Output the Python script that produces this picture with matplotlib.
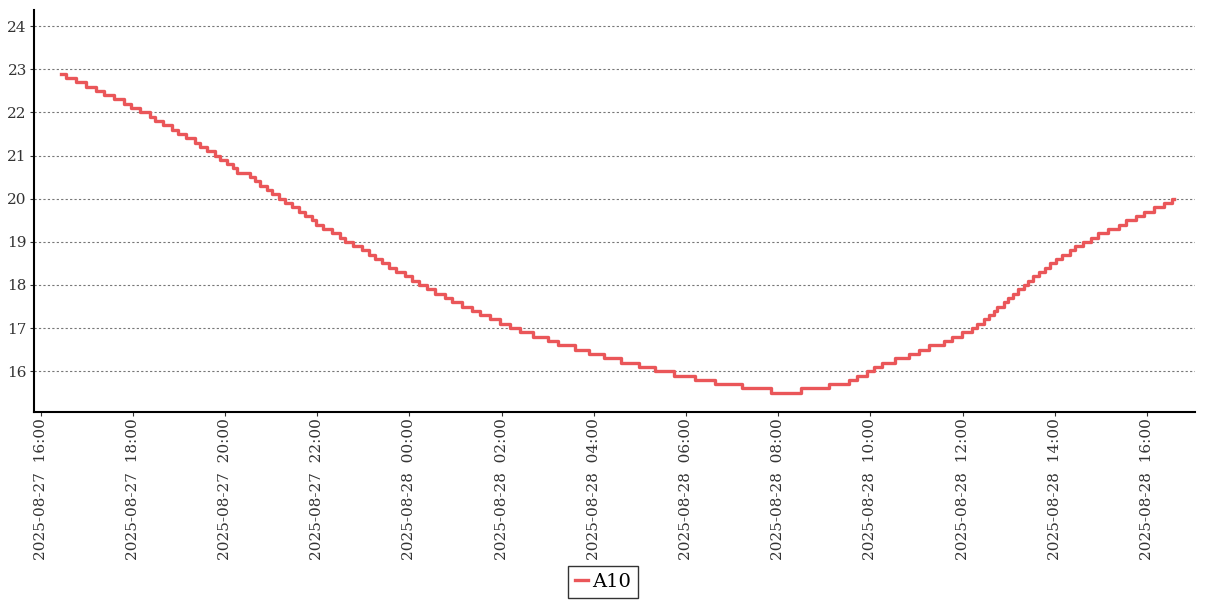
import matplotlib
matplotlib.use("Agg")
import matplotlib.pyplot as plt
import matplotlib.dates as mdates
import pandas as pd

# step change times (HH:MM) and the value that starts at each time
day1_times = ["16:26", "16:33", "16:46", "16:59", "17:12", "17:22", "17:35", "17:48", "17:58",
              "18:09", "18:22", "18:29", "18:39", "18:51", "18:59", "19:09", "19:21", "19:27",
              "19:37", "19:47", "19:54", "20:02", "20:10", "20:16", "20:32", "20:39", "20:45",
              "20:54", "21:01", "21:10", "21:18", "21:27", "21:36", "21:44", "21:53", "21:59",
              "22:08", "22:19", "22:29", "22:36", "22:47", "22:58", "23:08", "23:15", "23:24",
              "23:33", "23:43", "23:54"]
day1_values = [22.9, 22.8, 22.7, 22.6, 22.5, 22.4, 22.3, 22.2, 22.1,
               22.0, 21.9, 21.8, 21.7, 21.6, 21.5, 21.4, 21.3, 21.2,
               21.1, 21.0, 20.9, 20.8, 20.7, 20.6, 20.5, 20.4, 20.3,
               20.2, 20.1, 20.0, 19.9, 19.8, 19.7, 19.6, 19.5, 19.4,
               19.3, 19.2, 19.1, 19.0, 18.9, 18.8, 18.7, 18.6, 18.5,
               18.4, 18.3, 18.2]

day2_times = ["00:03", "00:13", "00:23", "00:33", "00:46", "00:55", "01:08", "01:21", "01:32",
              "01:45", "01:58", "02:11", "02:24", "02:41", "03:00", "03:13", "03:35", "03:54",
              "04:13", "04:35", "04:59", "05:19", "05:44", "06:12", "06:38", "07:13", "07:51",
              "08:30", "09:06", "09:32", "09:42", "09:55", "10:05", "10:15", "10:32", "10:50",
              "11:03", "11:16", "11:36", "11:46", "11:59", "12:12", "12:19", "12:28", "12:34",
              "12:41", "12:45", "12:54", "12:59", "13:06", "13:12", "13:20", "13:25", "13:32",
              "13:39", "13:47", "13:54", "14:02", "14:09", "14:20", "14:26", "14:37", "14:47",
              "14:56", "15:09", "15:24", "15:33", "15:46", "15:56", "16:09", "16:22", "16:33",
              "16:35"]
day2_values = [18.1, 18.0, 17.9, 17.8, 17.7, 17.6, 17.5, 17.4, 17.3,
               17.2, 17.1, 17.0, 16.9, 16.8, 16.7, 16.6, 16.5, 16.4,
               16.3, 16.2, 16.1, 16.0, 15.9, 15.8, 15.7, 15.6, 15.5,
               15.6, 15.7, 15.8, 15.9, 16.0, 16.1, 16.2, 16.3, 16.4,
               16.5, 16.6, 16.7, 16.8, 16.9, 17.0, 17.1, 17.2, 17.3,
               17.4, 17.5, 17.6, 17.7, 17.8, 17.9, 18.0, 18.1, 18.2,
               18.3, 18.4, 18.5, 18.6, 18.7, 18.8, 18.9, 19.0, 19.1,
               19.2, 19.3, 19.4, 19.5, 19.6, 19.7, 19.8, 19.9, 20.0,
               20.0]

times = pd.to_datetime(["2025-08-27 " + t for t in day1_times] +
                       ["2025-08-28 " + t for t in day2_times])
values = day1_values + day2_values

plt.rcParams['font.family'] = ['DejaVu Serif']

fig = plt.figure(figsize=(12.07, 6.0), dpi=100)
ax = fig.add_axes([0.028, 0.313, 0.962, 0.670])

ax.plot(times, values, drawstyle='steps-post', color='#ea5659', linewidth=2.4, label='A10')

ax.set_ylim(15.05, 24.37)
ax.set_xlim(pd.Timestamp("2025-08-27 15:51:00"), pd.Timestamp("2025-08-28 17:02:30"))
ax.set_yticks([16, 17, 18, 19, 20, 21, 22, 23, 24])
ax.xaxis.set_major_locator(mdates.HourLocator(byhour=range(0, 24, 2)))
ax.xaxis.set_major_formatter(mdates.DateFormatter('%Y-%m-%d  %H:%M'))
plt.setp(ax.get_xticklabels(), rotation=90, ha='center')

ax.grid(axis='y', linestyle=(0, (2, 2)), color='#777777', linewidth=0.8)
ax.spines['top'].set_visible(False)
ax.spines['right'].set_visible(False)
ax.spines['left'].set_linewidth(1.5)
ax.spines['bottom'].set_linewidth(1.5)
ax.tick_params(axis='both', labelsize=11, length=3, width=0.8, colors='#333333',
               labelcolor='#333333')
ax.tick_params(axis='x', pad=1)
ax.tick_params(axis='y', pad=2)

ax.legend(loc='center', bbox_to_anchor=(0.4996, 0.03), bbox_transform=fig.transFigure,
          fontsize=14, frameon=True, fancybox=False, edgecolor='black',
          handlelength=0.7, handletextpad=0.2, borderpad=0.35, borderaxespad=0)

fig.savefig('out.png', dpi=100)
